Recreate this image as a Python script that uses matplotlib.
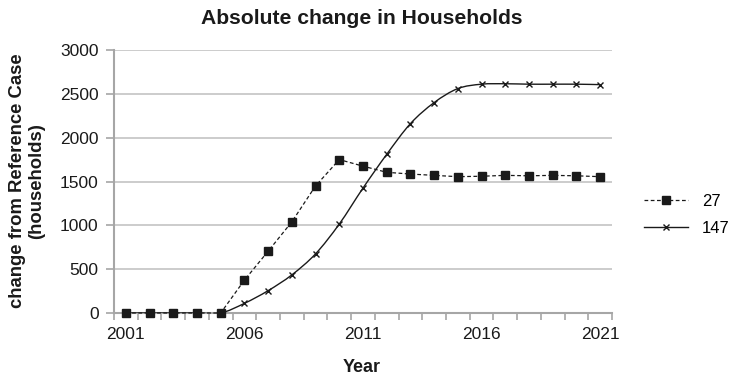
import numpy as np
import matplotlib
matplotlib.use("Agg")
import matplotlib.pyplot as plt
from matplotlib.path import Path
from matplotlib.patches import PathPatch
from matplotlib.lines import Line2D

plt.rcParams['font.family'] = ['Liberation Sans', 'DejaVu Sans']

years = list(range(2001, 2022))
tick_years = [2001, 2006, 2011, 2016, 2021]
series_27 = [0, 0, 0, 0, 0, 375, 705, 1040, 1450, 1750, 1675, 1605, 1585,
             1570, 1555, 1560, 1570, 1565, 1570, 1565, 1555]
series_147 = [0, 0, 0, 0, 0, 110, 255, 435, 675, 1015, 1425, 1810, 2160,
              2400, 2560, 2610, 2615, 2610, 2610, 2610, 2605]
labels = ["27", "147"]


def smooth_path(xs, ys):
    """Cubic Bezier path through the points (Catmull-Rom style smoothing)."""
    pts = np.column_stack([xs, ys]).astype(float)
    n = len(pts)
    verts = [pts[0]]
    codes = [Path.MOVETO]
    for i in range(n - 1):
        p0 = pts[i - 1] if i > 0 else pts[i]
        p1 = pts[i]
        p2 = pts[i + 1]
        p3 = pts[i + 2] if i + 2 < n else pts[i + 1]
        c1 = p1 + (p2 - p0) / 6.0
        c2 = p2 - (p3 - p1) / 6.0
        verts += [c1, c2, p2]
        codes += [Path.CURVE4] * 3
    return Path(verts, codes)


fig = plt.figure(figsize=(7.33, 3.8), dpi=100)
ax = fig.add_axes([114 / 733, 1 - 313 / 380, (612 - 114) / 733, (313 - 50) / 380])

grid_c = "#c4c4c4"
axis_c = "#a6a6a6"
ink = "#1a1a1a"

ax.set_xlim(2000.5, 2021.5)
ax.set_ylim(0, 3000)
ax.set_yticks(np.arange(0, 3001, 500))
ax.yaxis.grid(True, color=grid_c, linewidth=1.2)
ax.set_axisbelow(True)

ax.set_xticks(tick_years)
ax.set_xticks(np.arange(2000.5, 2021.6, 1), minor=True)
ax.tick_params(axis='x', which='major', length=0, pad=10, labelsize=12.5, colors=ink)
ax.tick_params(axis='x', which='minor', length=5, width=1.2, color=axis_c, direction='out')
ax.tick_params(axis='y', length=6, width=1.2, color=axis_c, pad=5, labelsize=12.5,
               labelcolor=ink)

for side in ("top", "right"):
    ax.spines[side].set_visible(False)
for side in ("left", "bottom"):
    ax.spines[side].set_color(axis_c)
    ax.spines[side].set_linewidth(1.5)

# dashed series with square markers
ax.plot(years, series_27, linestyle=(0, (3, 2)), color=ink, linewidth=0.9,
        marker="s", markersize=5.2, markerfacecolor=ink, markeredgecolor=ink,
        clip_on=False, zorder=3)

# smoothed series with cross markers
patch = PathPatch(smooth_path(years, series_147), facecolor="none",
                  edgecolor=ink, linewidth=1.0, zorder=3)
ax.add_patch(patch)
ax.plot(years, series_147, linestyle="none", marker="x", markersize=5,
        markeredgewidth=1.0, color=ink, clip_on=False, zorder=3)

handles = [
    Line2D([], [], linestyle=(0, (3, 2)), color=ink, linewidth=0.9, marker="s",
           markersize=5.2),
    Line2D([], [], linestyle="-", color=ink, linewidth=1.0, marker="x",
           markersize=5, markeredgewidth=1.0),
]
fig.legend(handles, labels, loc="center left", bbox_to_anchor=(644 / 733, 1 - 215 / 380),
           frameon=False, fontsize=12, handlelength=2.64, handletextpad=0.84,
           labelspacing=0.7, borderaxespad=0, borderpad=0)

fig.text(362 / 733, 1 - 18 / 380, "Absolute change in Households", ha="center",
         va="center", fontsize=15.2, fontweight="bold", color=ink)
fig.text(362 / 733, 1 - 368 / 380, "Year", ha="center", va="center",
         fontsize=13, fontweight="bold", color=ink)
fig.text(27 / 733, 1 - 181 / 380, "change from Reference Case\n(households)",
         ha="center", va="center", rotation=90, fontsize=13.3, fontweight="bold",
         color=ink, linespacing=1.2, multialignment="center")

fig.savefig("out.png", dpi=100)
